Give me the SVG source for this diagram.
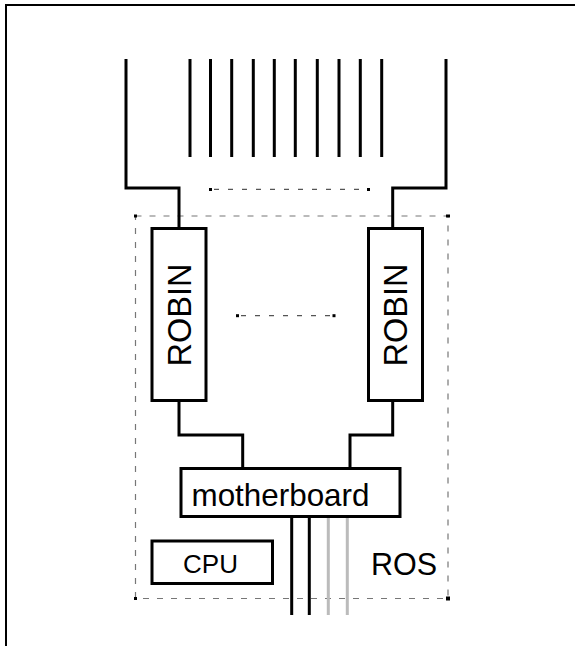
<svg xmlns="http://www.w3.org/2000/svg" width="575" height="646" viewBox="0 0 575 646">
<style>
.w{fill:none;stroke:#000;stroke-width:3}
.box{fill:#fff;stroke:#000;stroke-width:3}
.gw{fill:none;stroke:#bbb;stroke-width:3}
.dash{fill:none;stroke:#777;stroke-width:1.2;stroke-dasharray:6 8}
.dot{fill:none;stroke:#555;stroke-width:1.2;stroke-dasharray:5 9}
.sq{fill:#000}
text{font-family:"Liberation Sans",Arial,sans-serif;fill:#000}
</style>
<rect width="575" height="646" fill="#fff"/>
<path d="M6,646 V5 H575" fill="none" stroke="#000" stroke-width="2"/>
<g id="ros">
<rect class="dash" x="135.5" y="216" width="312.5" height="382.5"/>
<rect class="sq" x="134" y="214.5" width="3" height="3"/>
<rect class="sq" x="446" y="214.5" width="4" height="3"/>
<rect class="sq" x="134" y="597" width="3" height="3"/>
<rect class="sq" x="446" y="596.5" width="4" height="4"/>
<text x="371" y="575" font-size="30.5">ROS</text>
</g>
<g id="connectors">
<path class="w" d="M126,59 V188 H179 V229"/>
<path class="w" d="M446,59 V188 H392.7 V229"/>
<path class="w" d="M190,59 V157 M210.5,59 V157 M231.7,59 V157 M253.3,59 V157 M274.3,59 V157 M295.3,59 V157 M317.3,59 V157 M339,59 V157 M360.3,59 V157 M381.7,59 V157"/>
<path class="w" d="M179,401 V435 H242.7 V469"/>
<path class="w" d="M392.7,401 V435 H350 V469"/>
<path class="w" d="M291.7,517 V615 M309.3,517 V615"/>
<path class="gw" d="M328.3,517 V615 M347.3,517 V615"/>
<line class="dot" x1="214" y1="189.3" x2="366" y2="189.3"/>
<rect class="sq" x="209" y="188" width="3" height="3"/>
<rect class="sq" x="367" y="188" width="3" height="3"/>
<line class="dot" x1="241" y1="315.7" x2="331" y2="315.7"/>
<rect class="sq" x="236" y="314.2" width="3" height="3"/>
<rect class="sq" x="332.5" y="314.2" width="3" height="3"/>
</g>
<g id="robin1">
<rect class="box" x="152" y="228.5" width="54" height="172"/>
<text transform="translate(190.5,315) rotate(-90)" text-anchor="middle" font-size="32.5">ROBIN</text>
</g>
<g id="robin2">
<rect class="box" x="368.5" y="228.5" width="54" height="172"/>
<text transform="translate(407,315) rotate(-90)" text-anchor="middle" font-size="32.5">ROBIN</text>
</g>
<g id="motherboard">
<rect class="box" x="181" y="468.5" width="219" height="48"/>
<text x="191.5" y="505.5" font-size="30.5" textLength="178" lengthAdjust="spacingAndGlyphs">motherboard</text>
</g>
<g id="cpu">
<rect class="box" x="152" y="541" width="120.5" height="42.5"/>
<text x="210.5" y="573" text-anchor="middle" font-size="26">CPU</text>
</g>
</svg>
